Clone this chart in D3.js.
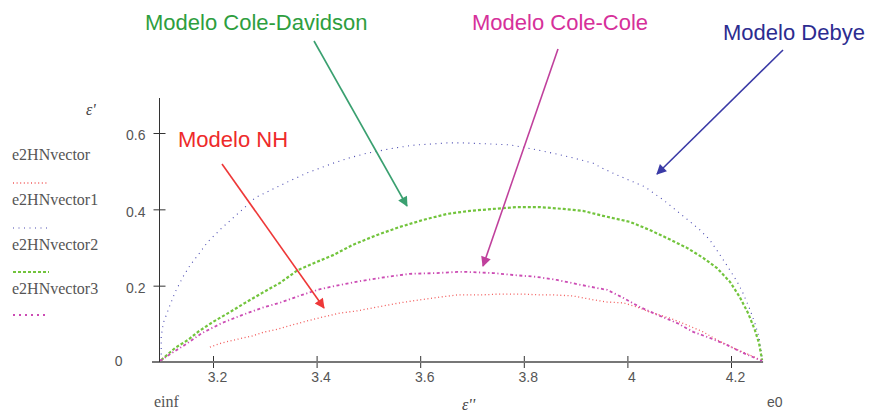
<!DOCTYPE html>
<html>
<head>
<meta charset="utf-8">
<script src="https://cdn.jsdelivr.net/npm/d3@7/dist/d3.min.js"></script>
<style>
  body { margin: 0; background: #fff; }
  svg { display: block; }
</style>
</head>
<body>
<svg id="chart" width="877" height="414"></svg>
<script>
// ---- data ----
const xTicks = [3.2, 3.4, 3.6, 3.8, 4, 4.2];
const xTickLabels = ["3.2", "3.4", "3.6", "3.8", "4", "4.2"];
const yTicks = [0, 0.2, 0.4, 0.6];
const yTickLabels = ["0", "0.2", "0.4", "0.6"];
const einf = 3.1, e0 = 4.26;

const legendNames = ["e2HNvector", "e2HNvector1", "e2HNvector2", "e2HNvector3"];

// e2HNvector : Havriliak-Negami (red)
const hnX = [3.194,3.217,3.242,3.275,3.300,3.325,3.353,3.380,3.412,3.445,3.478,3.517,3.561,3.600,3.638,3.673,3.721,3.754,3.793,3.831,3.856,3.895,3.934,3.961,3.992,4.019,4.043,4.082,4.115,4.146,4.173,4.204,4.237,4.260];
const hnY = [0.039,0.050,0.058,0.068,0.079,0.086,0.097,0.107,0.118,0.128,0.134,0.144,0.155,0.163,0.170,0.176,0.176,0.178,0.178,0.176,0.176,0.173,0.163,0.157,0.155,0.144,0.131,0.115,0.097,0.079,0.058,0.037,0.018,0.003];

// e2HNvector1 : Debye (blue)
const dbX = [3.100,3.100,3.104,3.117,3.127,3.142,3.156,3.171,3.190,3.217,3.258,3.281,3.320,3.352,3.381,3.432,3.464,3.497,3.548,3.586,3.652,3.683,3.739,3.773,3.825,3.870,3.903,3.934,3.951,3.980,4.011,4.034,4.050,4.069,4.098,4.117,4.140,4.159,4.179,4.194,4.212,4.223,4.237,4.246,4.254,4.260];
const dbY = [0.005,0.066,0.102,0.149,0.183,0.223,0.254,0.280,0.315,0.351,0.401,0.430,0.456,0.477,0.495,0.521,0.535,0.547,0.560,0.568,0.574,0.574,0.571,0.569,0.556,0.543,0.532,0.521,0.508,0.490,0.472,0.459,0.443,0.425,0.393,0.372,0.346,0.320,0.280,0.249,0.210,0.181,0.136,0.102,0.066,0.013];

// e2HNvector2 : Cole-Davidson (green)
const cdX = [3.100,3.127,3.152,3.171,3.200,3.233,3.262,3.295,3.329,3.364,3.400,3.432,3.470,3.517,3.561,3.605,3.652,3.696,3.741,3.787,3.831,3.876,3.914,3.953,4.005,4.043,4.076,4.115,4.146,4.173,4.198,4.217,4.233,4.246,4.254,4.260];
const cdY = [0.005,0.037,0.058,0.079,0.105,0.131,0.155,0.181,0.207,0.241,0.262,0.280,0.307,0.333,0.354,0.372,0.388,0.396,0.401,0.406,0.406,0.401,0.396,0.383,0.367,0.346,0.325,0.299,0.273,0.246,0.210,0.170,0.128,0.084,0.050,0.005];

// e2HNvector3 : Cole-Cole (magenta)
const ccX = [3.098,3.121,3.146,3.179,3.217,3.256,3.295,3.333,3.372,3.407,3.445,3.484,3.536,3.580,3.632,3.671,3.690,3.741,3.779,3.825,3.864,3.903,3.941,3.961,3.992,4.024,4.059,4.096,4.127,4.159,4.192,4.223,4.260];
const ccY = [0.003,0.024,0.045,0.076,0.102,0.123,0.142,0.157,0.176,0.191,0.202,0.212,0.223,0.231,0.233,0.236,0.236,0.233,0.228,0.223,0.215,0.204,0.194,0.189,0.168,0.144,0.123,0.102,0.079,0.063,0.045,0.024,0.003];

const annotations = ["Modelo Cole-Davidson", "Modelo Cole-Cole", "Modelo Debye", "Modelo NH"];

// ---- drawing ----
const svg = d3.select("#chart");
const x = d3.scaleLinear().domain([3.2, 4.2]).range([213, 731]);
const y = d3.scaleLinear().domain([0, 0.6]).range([362, 133]);

const series = [
  {xs: hnX, ys: hnY, color: "#f25a5a", width: 1.3, dash: "1,2.6"},
  {xs: dbX, ys: dbY, color: "#4848b0", width: 1.1, dash: "1,4.5"},
  {xs: cdX, ys: cdY, color: "#72c43c", width: 2.2, dash: "3,2"},
  {xs: ccX, ys: ccY, color: "#cc4cb4", width: 1.8, dash: "3,2.5,1.2,2.5"}
];

// axes
const gx = svg.append("g").attr("transform", `translate(0,${y(0)})`);
gx.call(d3.axisBottom(x).tickValues(xTicks).tickSize(0).tickFormat((d, i) => xTickLabels[i]));
gx.select(".domain").remove();
gx.append("line").attr("x1", 152).attr("x2", x(e0) + 1).attr("y1", 0).attr("y2", 0)
  .attr("stroke", "#777").attr("stroke-width", 2);
gx.selectAll(".tick line").remove();
gx.selectAll(".tick").append("line").attr("y1", -6).attr("y2", 6).attr("stroke", "#333").attr("stroke-width", 1);
gx.selectAll(".tick text").attr("y", 20).attr("dx", 4).attr("dy", 0)
  .attr("fill", "#555").attr("font-family", "Liberation Sans, Arial, sans-serif").attr("font-size", 14);

const gy = svg.append("g").attr("transform", `translate(159.5,0)`);
gy.call(d3.axisLeft(y).tickValues(yTicks).tickSize(0).tickFormat((d, i) => yTickLabels[i]));
gy.select(".domain").remove();
gy.append("line").attr("x1", 0).attr("x2", 0).attr("y1", 98).attr("y2", y(0))
  .attr("stroke", "#333").attr("stroke-width", 1);
gy.selectAll(".tick line").remove();
gy.selectAll(".tick").filter(d => d > 0).append("line").attr("x1", -6).attr("x2", 6).attr("stroke", "#333");
gy.selectAll(".tick text").attr("x", -14).attr("dy", "0.85em")
  .attr("y", d => d === 0 ? -8 : -5)
  .attr("dx", d => d === 0 ? -23 : 0)
  .attr("fill", "#555").attr("font-family", "Liberation Sans, Arial, sans-serif").attr("font-size", 14);

// axis extra labels
svg.append("text").attr("x", 154).attr("y", 407).text("einf")
  .attr("fill", "#555").attr("font-family", "Liberation Serif, Times New Roman, serif").attr("font-size", 16);
svg.append("text").attr("x", 767).attr("y", 407).text("e0")
  .attr("fill", "#555").attr("font-family", "Liberation Sans, Arial, sans-serif").attr("font-size", 14);
svg.append("text").attr("x", 462).attr("y", 410).text("ε''")
  .attr("fill", "#444").attr("font-style", "italic").attr("font-family", "Liberation Serif, serif").attr("font-size", 16);
svg.append("text").attr("x", 86).attr("y", 115).text("ε'")
  .attr("fill", "#444").attr("font-style", "italic").attr("font-family", "Liberation Serif, serif").attr("font-size", 16);

// curves
const line = d3.line().x(d => x(d[0])).y(d => y(d[1]));
series.forEach(s => {
  const pts = s.xs.map((v, i) => [v, s.ys[i]]);
  svg.append("path").attr("d", line(pts)).attr("fill", "none")
    .attr("stroke", s.color).attr("stroke-width", s.width).attr("stroke-dasharray", s.dash);
});

// legend
const legendTextY = [160, 205, 250, 294];
const legendLineY = [183, 228, 272, 315];
legendNames.forEach((n, i) => {
  svg.append("text").attr("x", 12).attr("y", legendTextY[i]).text(n)
    .attr("fill", "#555").attr("font-family", "Liberation Serif, Times New Roman, serif").attr("font-size", 16);
  svg.append("line").attr("x1", 13).attr("x2", 49).attr("y1", legendLineY[i]).attr("y2", legendLineY[i])
    .attr("stroke", series[i].color).attr("stroke-width", series[i].width)
    .attr("stroke-dasharray", i === 3 ? "2,4" : series[i].dash);
});

// annotations with arrows
const defs = svg.append("defs");
const annColors = ["#2e9e3e", "#d6309a", "#2c2c90", "#ee2a2a"];
const arrowColors = ["#3aa070", "#c0409c", "#3a3aa6", "#ee3838"];
const annPos = [[145, 30], [472, 30], [723, 40], [178, 147]];
const arrowFrom = [[314, 41], [558, 49], [783, 50], [222, 164]];
const arrowTo = [[407, 206], [483, 266], [657, 174], [324, 308]];
arrowColors.forEach((c, i) => {
  defs.append("marker").attr("id", "ah" + i).attr("viewBox", "0 0 10 10").attr("refX", 9).attr("refY", 5)
    .attr("markerWidth", 12).attr("markerHeight", 10).attr("markerUnits", "userSpaceOnUse").attr("orient", "auto")
    .append("path").attr("d", "M0,0 L10,5 L0,10 z").attr("fill", c);
});
annotations.forEach((t, i) => {
  svg.append("text").attr("x", annPos[i][0]).attr("y", annPos[i][1]).text(t)
    .attr("fill", annColors[i]).attr("font-family", "Liberation Sans, Arial, sans-serif").attr("font-size", 22);
  svg.append("line").attr("x1", arrowFrom[i][0]).attr("y1", arrowFrom[i][1])
    .attr("x2", arrowTo[i][0]).attr("y2", arrowTo[i][1])
    .attr("stroke", arrowColors[i]).attr("stroke-width", 1.6).attr("marker-end", `url(#ah${i})`);
});
</script>
</body>
</html>
